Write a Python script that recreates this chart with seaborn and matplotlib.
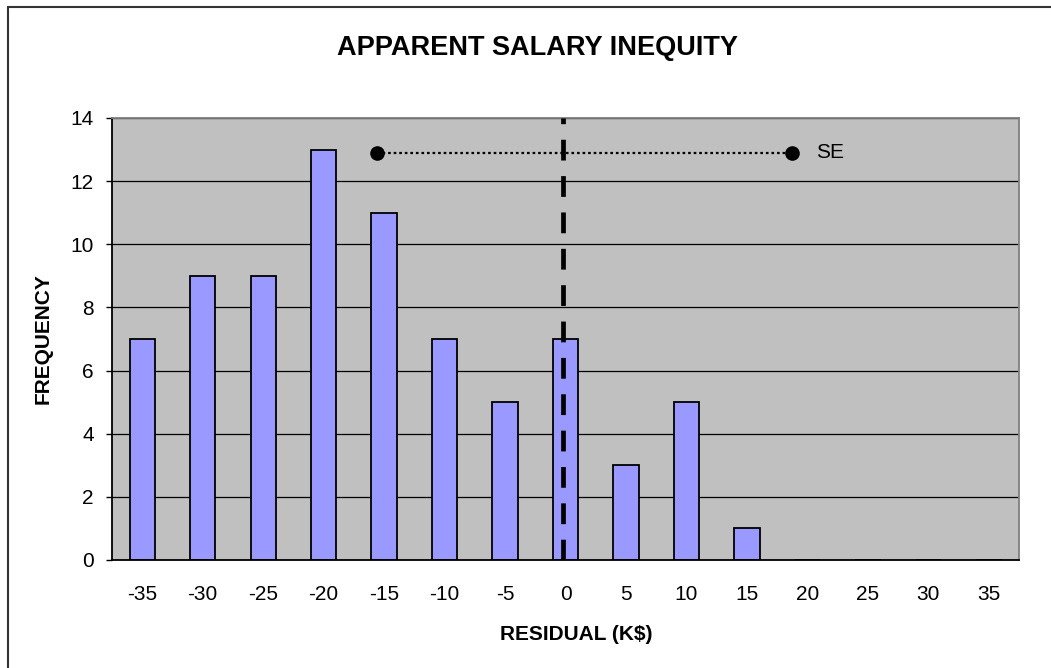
import matplotlib
matplotlib.use('Agg')
import matplotlib.pyplot as plt
import matplotlib.patches as mpatches
from matplotlib.ticker import FixedLocator
import pandas as pd
import seaborn as sns

sns.set_style('white')
plt.rcParams['font.family'] = ['Liberation Sans', 'DejaVu Sans']
plt.rcParams['text.color'] = 'black'
plt.rcParams['axes.labelcolor'] = 'black'
plt.rcParams['xtick.color'] = 'black'
plt.rcParams['ytick.color'] = 'black'

# Data
residuals = [-35, -30, -25, -20, -15, -10, -5, 0, 5, 10, 15, 20, 25, 30, 35]
counts = [7, 9, 9, 13, 11, 7, 5, 7, 3, 5, 1, 0, 0, 0, 0]

# reference marks (category-index units on the x axis)
zero_line_pos = 6.95
se_start, se_end = 3.88, 10.75
se_level = 12.9
se_label = 'SE'

df = pd.DataFrame({'residual': [str(r) for r in residuals], 'count': counts})

fig = plt.figure(figsize=(10.51, 6.68), dpi=100)
ax = fig.add_axes([0.1066, 0.1617, 0.8630, 0.6617])
ax.set_facecolor('#C0C0C0')

sns.barplot(
    data=df, x='residual', y='count',
    order=df['residual'],
    color='#9999FF', saturation=1,
    edgecolor='black', linewidth=1.3,
    width=0.42, ax=ax,
)

ax.set_xlim(-0.5, len(residuals) - 0.5)
ax.set_ylim(0, 14)
ax.set_yticks(range(0, 15, 2))

# grid lines
ax.set_axisbelow(True)
ax.yaxis.grid(True, color='black', linewidth=0.9)
ax.xaxis.grid(False)

# spines
for side in ['left', 'bottom']:
    ax.spines[side].set_color('black')
    ax.spines[side].set_linewidth(1.3)
for side in ['top', 'right']:
    ax.spines[side].set_color('#808080')
    ax.spines[side].set_linewidth(1.3)

# ticks: labels at category centres, marks at category boundaries
ax.tick_params(axis='x', which='major', length=0, labelsize=15, pad=18)
ax.xaxis.set_minor_locator(FixedLocator([i + 0.5 for i in range(len(residuals) - 1)]))
ax.tick_params(axis='x', which='minor', direction='in', length=5, width=1.0, color='black')
ax.tick_params(axis='y', direction='out', length=4, width=1.0, color='black',
               labelsize=15, pad=9, left=True)

# dashed zero line
ax.axvline(zero_line_pos, color='black', linewidth=3.4, dashes=(4.4, 3.3), zorder=5)

# SE interval
ax.plot([se_start, se_end], [se_level, se_level], color='black', linewidth=1.6,
        dashes=(1.2, 1.3), marker='o', markersize=9.5, zorder=6)
ax.text(se_end + 0.4, se_level, se_label, fontsize=15, va='center', ha='left')

# labels
ax.set_title('APPARENT SALARY INEQUITY', fontsize=19.5, fontweight='bold',
             x=0.4686, pad=45)
ax.set_xlabel('RESIDUAL (K$)', fontsize=15, fontweight='bold')
ax.xaxis.set_label_coords(0.5116, -0.146)
ax.set_ylabel('FREQUENCY', fontsize=15, fontweight='bold')
ax.yaxis.set_label_coords(-0.066, 0.5)

# chart-area frame
frame = mpatches.Rectangle((8 / 1051, -0.2), 1.2, 1.2 - 7 / 668,
                           transform=fig.transFigure, fill=False,
                           edgecolor='#333333', linewidth=1.5, clip_on=False)
fig.patches.append(frame)

fig.savefig('out.png', dpi=100, facecolor='white')
plt.close(fig)
